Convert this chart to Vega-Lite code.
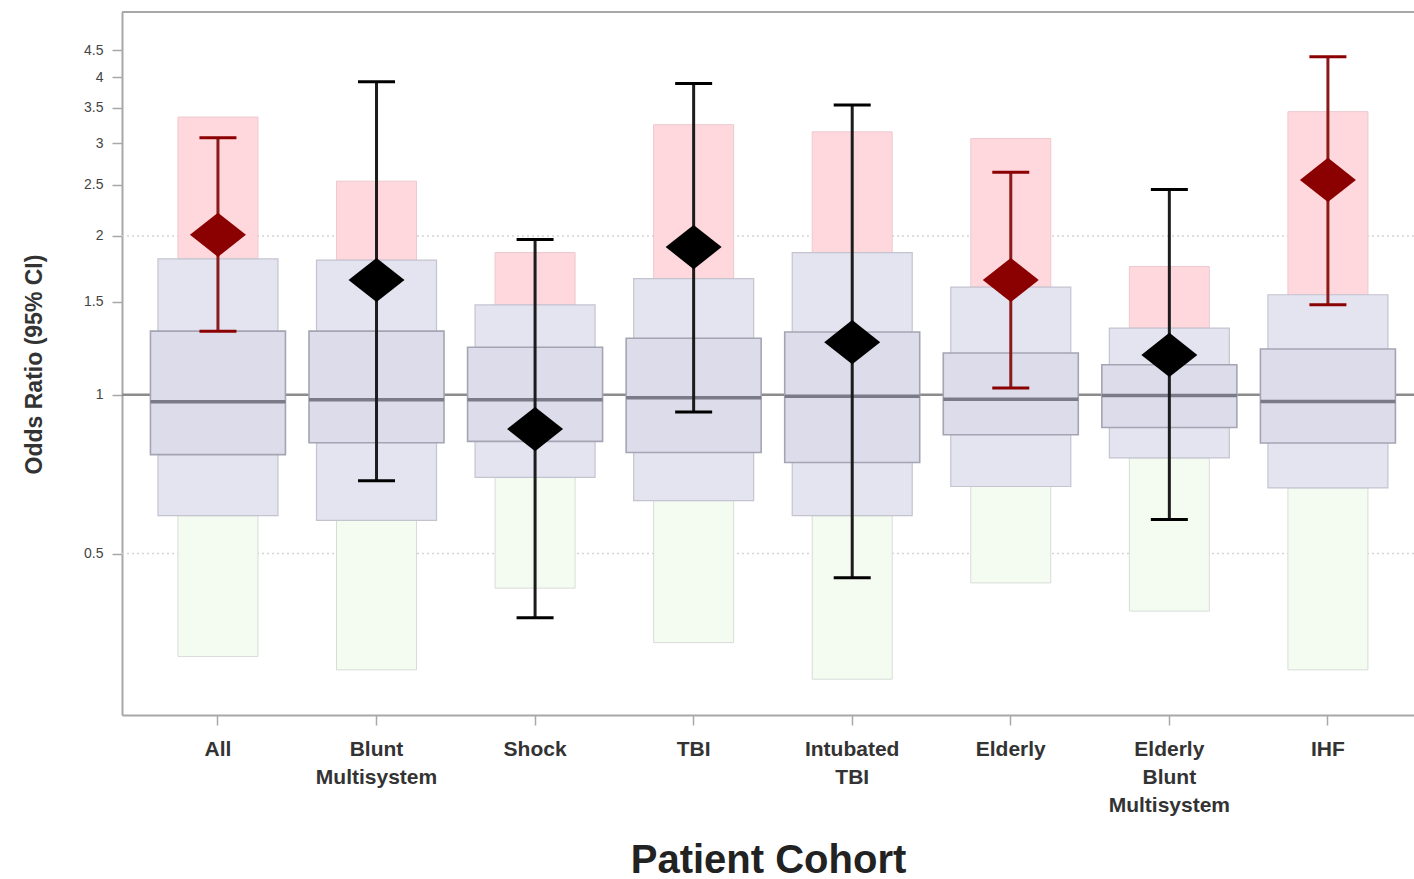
{
  "$schema": "https://vega.github.io/schema/vega-lite/v6.json",
  "width": 1292,
  "height": 703,
  "autosize": {"type": "none"},
  "padding": {"left": 122, "top": 12, "right": 0, "bottom": 164},
  "background": "white",
  "config": {
    "font": "Liberation Sans",
    "view": {"stroke": null}
  },
  "datasets": {
    "cohorts": [
      {"cohort": "All", "pinkTop": 3.36, "outerTop": 1.81, "innerTop": 1.32, "median": 0.97, "innerBot": 0.77, "outerBot": 0.59, "greenBot": 0.319, "lo": 1.32, "hi": 3.07, "or": 2.01, "sig": "yes"},
      {"cohort": "Blunt Multisystem", "pinkTop": 2.54, "outerTop": 1.8, "innerTop": 1.32, "median": 0.978, "innerBot": 0.811, "outerBot": 0.578, "greenBot": 0.301, "lo": 0.687, "hi": 3.92, "or": 1.65, "sig": "no"},
      {"cohort": "Shock", "pinkTop": 1.86, "outerTop": 1.48, "innerTop": 1.23, "median": 0.978, "innerBot": 0.816, "outerBot": 0.697, "greenBot": 0.43, "lo": 0.378, "hi": 1.97, "or": 0.861, "sig": "no"},
      {"cohort": "TBI", "pinkTop": 3.25, "outerTop": 1.66, "innerTop": 1.28, "median": 0.987, "innerBot": 0.777, "outerBot": 0.63, "greenBot": 0.339, "lo": 0.927, "hi": 3.89, "or": 1.905, "sig": "no"},
      {"cohort": "Intubated TBI", "pinkTop": 3.15, "outerTop": 1.86, "innerTop": 1.315, "median": 0.993, "innerBot": 0.744, "outerBot": 0.59, "greenBot": 0.289, "lo": 0.45, "hi": 3.54, "or": 1.258, "sig": "no"},
      {"cohort": "Elderly", "pinkTop": 3.06, "outerTop": 1.6, "innerTop": 1.2, "median": 0.981, "innerBot": 0.84, "outerBot": 0.67, "greenBot": 0.44, "lo": 1.03, "hi": 2.64, "or": 1.65, "sig": "yes"},
      {"cohort": "Elderly Blunt Multisystem", "pinkTop": 1.75, "outerTop": 1.338, "innerTop": 1.14, "median": 0.997, "innerBot": 0.867, "outerBot": 0.759, "greenBot": 0.389, "lo": 0.58, "hi": 2.45, "or": 1.19, "sig": "no"},
      {"cohort": "IHF", "pinkTop": 3.44, "outerTop": 1.547, "innerTop": 1.221, "median": 0.971, "innerBot": 0.81, "outerBot": 0.666, "greenBot": 0.301, "lo": 1.481, "hi": 4.37, "or": 2.554, "sig": "yes"}
    ],
    "refs": [
      {"value": 1, "kind": "null"},
      {"value": 2, "kind": "grid"},
      {"value": 0.5, "kind": "grid"},
      {"value": 5.314, "kind": "frame"}
    ]
  },
  "data": {"name": "cohorts"},
  "layer": [
    {
      "data": {"name": "refs"},
      "transform": [{"filter": "datum.kind == 'grid'"}],
      "mark": {"type": "rule", "color": "#d4d4d4", "strokeWidth": 1.5, "strokeDash": [2, 3]},
      "encoding": {
        "y": {
          "field": "value", "type": "quantitative",
          "scale": {"type": "log", "domain": [0.2472, 5.314], "nice": false, "zero": false},
          "axis": {
            "title": "Odds Ratio (95% CI)",
            "values": [0.5, 1, 1.5, 2, 2.5, 3, 3.5, 4, 4.5],
            "format": "~g",
            "grid": false,
            "labelFontSize": 14,
            "labelColor": "#444444",
            "labelPadding": 9,
            "tickSize": 10,
            "tickColor": "#a8a8a8",
            "tickWidth": 1.5,
            "domainColor": "#a8a8a8",
            "domainWidth": 2,
            "titleFontSize": 23,
            "titleFontWeight": "bold",
            "titleColor": "#333333",
            "titleAngle": -90,
            "titleAlign": "center",
            "titleBaseline": "middle",
            "titleX": -88,
            "titleY": 352
          }
        }
      }
    },
    {
      "data": {"name": "refs"},
      "transform": [{"filter": "datum.kind == 'null'"}],
      "mark": {"type": "rule", "color": "#8c8c8c", "strokeWidth": 2.5},
      "encoding": {
        "y": {"field": "value", "type": "quantitative"}
      }
    },
    {
      "data": {"name": "refs"},
      "transform": [{"filter": "datum.kind == 'frame'"}],
      "mark": {"type": "rule", "color": "#a8a8a8", "strokeWidth": 2},
      "encoding": {
        "y": {"field": "value", "type": "quantitative"}
      }
    },
    {
      "mark": {"type": "bar", "width": 80, "fill": "#ffd8de", "stroke": "#ecc9ce", "strokeWidth": 1},
      "encoding": {
        "x": {
          "field": "cohort", "type": "nominal", "sort": null,
          "scale": {"type": "band", "paddingInner": 0, "paddingOuter": 0.074, "align": 0.71},
          "axis": {
            "title": "Patient Cohort",
            "labelExpr": "split(datum.value, ' ')",
            "labelAngle": 0,
            "labelFontSize": 21,
            "labelFontWeight": "bold",
            "labelColor": "#333333",
            "labelLineHeight": 28,
            "labelPadding": 13,
            "labelOverlap": false,
            "labelLimit": 300,
            "tickSize": 10,
            "tickColor": "#a8a8a8",
            "tickWidth": 1.5,
            "domainColor": "#a8a8a8",
            "domainWidth": 2,
            "titleFontSize": 40,
            "titleFontWeight": "bold",
            "titleColor": "#222222",
            "titleBaseline": "alphabetic",
            "titleY": 157
          }
        },
        "y": {"field": "pinkTop", "type": "quantitative"},
        "y2": {"field": "outerTop"}
      }
    },
    {
      "mark": {"type": "bar", "width": 80, "fill": "#f4fcf2", "stroke": "#d8dcd8", "strokeWidth": 1},
      "encoding": {
        "x": {"field": "cohort", "type": "nominal", "sort": null},
        "y": {"field": "outerBot", "type": "quantitative"},
        "y2": {"field": "greenBot"}
      }
    },
    {
      "mark": {"type": "bar", "width": 120, "fill": "#e4e4f1", "stroke": "#c4c4d0", "strokeWidth": 1.2},
      "encoding": {
        "x": {"field": "cohort", "type": "nominal", "sort": null},
        "y": {"field": "outerTop", "type": "quantitative"},
        "y2": {"field": "outerBot"}
      }
    },
    {
      "mark": {"type": "bar", "width": 135, "fill": "#dcdcea", "stroke": "#a4a4b2", "strokeWidth": 1.6},
      "encoding": {
        "x": {"field": "cohort", "type": "nominal", "sort": null},
        "y": {"field": "innerTop", "type": "quantitative"},
        "y2": {"field": "innerBot"}
      }
    },
    {
      "mark": {"type": "tick", "size": 135, "thickness": 3.5, "color": "#7a7a88", "opacity": 1},
      "encoding": {
        "x": {"field": "cohort", "type": "nominal", "sort": null},
        "y": {"field": "median", "type": "quantitative"}
      }
    },
    {
      "mark": {"type": "rule", "strokeWidth": 3},
      "encoding": {
        "x": {"field": "cohort", "type": "nominal", "sort": null},
        "y": {"field": "lo", "type": "quantitative"},
        "y2": {"field": "hi"},
        "stroke": {"field": "sig", "type": "nominal", "scale": {"domain": ["yes", "no"], "range": ["#8b1a1a", "#1c1c1c"]}, "legend": null}
      }
    },
    {
      "mark": {"type": "tick", "size": 37, "thickness": 3, "opacity": 1},
      "encoding": {
        "x": {"field": "cohort", "type": "nominal", "sort": null},
        "y": {"field": "hi", "type": "quantitative"},
        "color": {"field": "sig", "type": "nominal", "scale": {"domain": ["yes", "no"], "range": ["#8b0000", "#000000"]}, "legend": null}
      }
    },
    {
      "mark": {"type": "tick", "size": 37, "thickness": 3, "opacity": 1},
      "encoding": {
        "x": {"field": "cohort", "type": "nominal", "sort": null},
        "y": {"field": "lo", "type": "quantitative"},
        "color": {"field": "sig", "type": "nominal", "legend": null}
      }
    },
    {
      "mark": {"type": "point", "filled": true, "opacity": 1, "size": 3136, "shape": "M-1,0L0,-0.79L1,0L0,0.79Z", "strokeWidth": 0},
      "encoding": {
        "x": {"field": "cohort", "type": "nominal", "sort": null},
        "y": {"field": "or", "type": "quantitative"},
        "color": {"field": "sig", "type": "nominal", "legend": null}
      }
    }
  ]
}
